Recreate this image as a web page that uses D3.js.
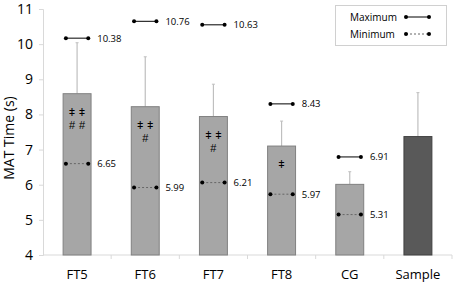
<!DOCTYPE html>
<html>
<head>
<meta charset="utf-8">
<script src="https://cdn.jsdelivr.net/npm/d3@7"></script>
<style>
  body { margin: 0; background: #fff; }
  text { font-family: "Open Sans", "Liberation Sans", sans-serif; }
</style>
</head>
<body>
<div id="chart"></div>
<script>
// Data
const groups = ["FT5", "FT6", "FT7", "FT8", "CG", "Sample"]
const means = [8.59, 8.22, 7.94, 7.10, 6.01, 7.37]
const errTop = [10.04, 9.64, 8.86, 7.81, 6.37, 8.62]
// max / min markers: drawn position and printed label
const maxPos = [10.17, 10.65, 10.55, 8.30, 6.79, null]
const maxLabel = ["10.38", "10.76", "10.63", "8.43", "6.91", null]
const minPos = [6.60, 5.92, 6.06, 5.73, 5.15, null]
const minLabel = ["6.65", "5.99", "6.21", "5.97", "5.31", null]
// significance marks inside bars (rows)
const marks = [["ǂ ǂ", "# #"], ["ǂ ǂ", "#"], ["ǂ ǂ", "#"], ["ǂ"], [], []]
const yTicks = [4, 5, 6, 7, 8, 9, 10, 11]

const w = 454, h = 283
const margin = {left: 43, right: 2, top: 9, bottom: 28}

const svg = d3.select("#chart").append("svg")
    .attr("width", w).attr("height", h)

const x = d3.scaleBand()
    .domain(groups)
    .range([margin.left, w - margin.right])

const y = d3.scaleLinear()
    .domain([4, 11])
    .range([h - margin.bottom, margin.top])

const axisCol = "#d9d9d9"

// Y axis
const yAxis = svg.append("g")
    .attr("transform", "translate(" + margin.left + ",0)")
    .call(d3.axisLeft(y).tickValues(yTicks).tickFormat(d3.format("d")).tickSize(4).tickPadding(6))
yAxis.select(".domain").attr("stroke", axisCol)
yAxis.selectAll(".tick line").attr("stroke", axisCol)
yAxis.selectAll(".tick text")
    .style("font-size", "14px").attr("fill", "#000")

// X axis with ticks between categories
const xAxisG = svg.append("g")
    .attr("transform", "translate(0," + y(4) + ")")
xAxisG.append("line")
    .attr("x1", margin.left).attr("x2", w - margin.right)
    .attr("stroke", axisCol)
xAxisG.selectAll(".sep")
    .data(groups)
    .enter()
    .append("line")
    .attr("x1", d => x(d) + x.bandwidth()).attr("x2", d => x(d) + x.bandwidth())
    .attr("y1", 0).attr("y2", 4)
    .attr("stroke", axisCol)
xAxisG.selectAll(".lbl")
    .data(groups)
    .enter()
    .append("text")
    .attr("x", d => x(d) + x.bandwidth() / 2)
    .attr("y", 24)
    .attr("text-anchor", "middle")
    .style("font-size", "13px")
    .text(d => d)

// Axis title
svg.append("text")
    .attr("transform", "translate(14,138) rotate(-90)")
    .attr("text-anchor", "middle")
    .style("font-size", "14px")
    .text("MAT Time (s)")

const barW = x.bandwidth() * 0.41
const cx = d => x(d) + x.bandwidth() / 2

// Error bars (behind bars)
svg.selectAll(".err")
    .data(groups)
    .enter()
    .append("line")
    .attr("x1", d => cx(d)).attr("x2", d => cx(d))
    .attr("y1", (d, i) => y(means[i])).attr("y2", (d, i) => y(errTop[i]))
    .attr("stroke", "#bfbfbf").attr("stroke-width", 1.2)

svg.selectAll(".cap")
    .data(groups)
    .enter()
    .append("line")
    .attr("x1", d => cx(d) - 1.5).attr("x2", d => cx(d) + 1.5)
    .attr("y1", (d, i) => y(errTop[i])).attr("y2", (d, i) => y(errTop[i]))
    .attr("stroke", "#bfbfbf").attr("stroke-width", 1)

// Bars
svg.selectAll(".bar")
    .data(groups)
    .enter()
    .append("rect")
    .attr("x", d => cx(d) - barW / 2)
    .attr("width", barW)
    .attr("y", (d, i) => y(means[i]))
    .attr("height", (d, i) => y(4) - y(means[i]))
    .attr("fill", d => d === "Sample" ? "#595959" : "#a6a6a6")
    .attr("stroke", d => d === "Sample" ? "#404040" : "#808080")
    .attr("stroke-width", 1)

// Significance marks, each symbol placed on its own
groups.forEach((g, i) => {
    marks[i].forEach((m, j) => {
        const parts = m.split(" ")
        parts.forEach((p, k) => {
            const off = (k - (parts.length - 1) / 2) * 10
            svg.append("text")
                .attr("x", cx(g) + off)
                .attr("y", y(means[i]) + 22 + j * 13.5)
                .attr("text-anchor", "middle")
                .style("font-family", "'Liberation Sans', sans-serif")
                .style("font-size", "11px")
                .attr("fill", "#000")
                .text(p)
        })
    })
})

// Max / min markers
const mW = barW * 0.8
function drawMarker(pos, labels, dashed) {
    groups.forEach((g, i) => {
        if (pos[i] === null) return
        const yy = y(pos[i])
        svg.append("line")
            .attr("x1", cx(g) - mW / 2).attr("x2", cx(g) + mW / 2)
            .attr("y1", yy).attr("y2", yy)
            .attr("stroke", dashed ? "#666" : "#000")
            .attr("stroke-width", 1)
            .attr("stroke-dasharray", dashed ? "2,2" : null)
        ;[-1, 1].forEach(s => {
            svg.append("circle")
                .attr("cx", cx(g) + s * mW / 2).attr("cy", yy)
                .attr("r", 2).attr("fill", "#000")
        })
        svg.append("text")
            .attr("x", cx(g) + mW / 2 + 9)
            .attr("y", yy + 3.5)
            .style("font-size", "9.5px")
            .text(labels[i])
    })
}
drawMarker(maxPos, maxLabel, false)
drawMarker(minPos, minLabel, true)

// Legend
const lg = svg.append("g")
lg.append("rect")
    .attr("x", 335.5).attr("y", 5.5).attr("width", 111).attr("height", 40)
    .attr("fill", "#fff").attr("stroke", "#d0d0d0")
;[["Maximum", false], ["Minimum", true]].forEach(([t, dashed], j) => {
    const yy = 17 + j * 17
    lg.append("text")
        .attr("x", 350).attr("y", yy + 3.5)
        .style("font-size", "10px").text(t)
    lg.append("line")
        .attr("x1", 406).attr("x2", 429).attr("y1", yy).attr("y2", yy)
        .attr("stroke", dashed ? "#666" : "#000")
        .attr("stroke-dasharray", dashed ? "2,2" : null)
    ;[406, 429].forEach(px => {
        lg.append("circle").attr("cx", px).attr("cy", yy).attr("r", 2).attr("fill", "#000")
    })
})
</script>
</body>
</html>
